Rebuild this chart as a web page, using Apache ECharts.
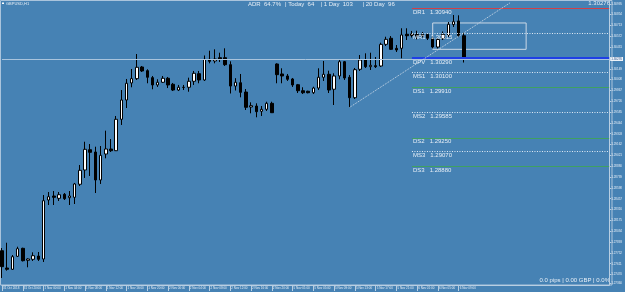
<!DOCTYPE html>
<html>
<head>
<meta charset="utf-8">
<script src="https://cdn.jsdelivr.net/npm/echarts@6/dist/echarts.min.js"></script>
<style>
  html, body { margin: 0; padding: 0; background: #4682b4; }
  #chart { width: 625px; height: 292px; }
</style>
</head>
<body>
<div id="chart"></div>
<script>
// GBPUSD H1 candles
const opens  = [1.27780,1.27555,1.27538,1.27707,1.27811,1.27655,1.27668,1.27711,1.27672,1.28440,
                1.28492,1.28462,1.28514,1.28470,1.28475,1.28645,1.28831,1.29095,1.29065,1.28701,
                1.29039,1.29104,1.29082,1.29491,1.29742,1.29964,1.30020,1.30172,1.30124,1.30033,
                1.29938,1.29973,1.30025,1.29947,1.29872,1.29905,1.29908,1.29986,1.30085,1.30003,
                1.30272,1.30250,1.30293,1.30293,1.30202,1.29924,1.29967,1.29846,1.29651,1.29664,
                1.29595,1.29621,1.29699,1.30211,1.30081,1.30055,1.30016,1.29941,1.29863,1.29856,
                1.29837,1.29898,1.30038,1.30077,1.29882,1.30055,1.30241,1.30038,1.29772,1.30142,
                1.30263,1.30176,1.30189,1.30185,1.30467,1.30546,1.30415,1.30415,1.30598,1.30582,
                1.30595,1.30575,1.30598,1.30546,1.30432,1.30540,1.30582,1.30725,1.30771,1.30579];
const closes = [1.27572,1.27538,1.27702,1.27806,1.27650,1.27672,1.27715,1.27668,1.28431,1.28483,
                1.28475,1.28509,1.28457,1.28492,1.28649,1.28827,1.29100,1.29061,1.28701,1.29022,
                1.29104,1.29082,1.29491,1.29742,1.29960,1.30020,1.30168,1.30120,1.30038,1.29938,
                1.29973,1.30025,1.29938,1.29872,1.29908,1.29908,1.29986,1.30090,1.30003,1.30272,
                1.30246,1.30276,1.30272,1.30202,1.29924,1.29973,1.29842,1.29647,1.29668,1.29590,
                1.29621,1.29699,1.29577,1.30072,1.30055,1.30012,1.29938,1.29863,1.29837,1.29837,
                1.29898,1.30038,1.30077,1.29872,1.30055,1.30241,1.30029,1.29772,1.30137,1.30263,
                1.30176,1.30194,1.30176,1.30467,1.30532,1.30402,1.30393,1.30589,1.30579,1.30602,
                1.30575,1.30598,1.30546,1.30432,1.30530,1.30598,1.30728,1.30762,1.30582,1.30276];
const lows   = [1.27425,1.27520,1.27529,1.27698,1.27640,1.27564,1.27646,1.27646,1.27633,1.28375,
                1.28375,1.28427,1.28440,1.28375,1.28388,1.28622,1.28727,1.28753,1.28531,1.28649,
                1.28983,1.29065,1.29078,1.29417,1.29638,1.29908,1.30003,1.30107,1.29960,1.29882,
                1.29912,1.29964,1.29898,1.29859,1.29859,1.29872,1.29850,1.29938,1.29960,1.29990,
                1.30220,1.30220,1.30237,1.30185,1.29827,1.29866,1.29777,1.29612,1.29569,1.29517,
                1.29534,1.29599,1.29573,1.29960,1.29960,1.29990,1.29912,1.29833,1.29820,1.29829,
                1.29820,1.29872,1.29990,1.29833,1.29677,1.30012,1.30003,1.29647,1.29755,1.30120,
                1.30159,1.30133,1.30159,1.30172,1.30445,1.30393,1.30367,1.30285,1.30523,1.30556,
                1.30532,1.30556,1.30523,1.30413,1.30413,1.30523,1.30562,1.30693,1.30562,1.30230];
const highs  = [1.27815,1.27884,1.27724,1.27832,1.27819,1.27681,1.27759,1.27763,1.28505,1.28544,
                1.28557,1.28544,1.28531,1.28557,1.28662,1.28896,1.29199,1.29169,1.29134,1.29143,
                1.29343,1.29234,1.29534,1.29872,1.30016,1.30146,1.30341,1.30185,1.30142,1.30055,
                1.30012,1.30055,1.30042,1.29964,1.29938,1.29938,1.30033,1.30120,1.30120,1.30322,
                1.30384,1.30402,1.30358,1.30415,1.30246,1.30026,1.30081,1.29885,1.29712,1.29699,
                1.29664,1.29720,1.29720,1.30220,1.30155,1.30081,1.30029,1.29951,1.29908,1.29863,
                1.29915,1.30155,1.30250,1.30124,1.30090,1.30263,1.30250,1.30068,1.30159,1.30328,
                1.30350,1.30358,1.30302,1.30488,1.30566,1.30575,1.30458,1.30676,1.30676,1.30641,
                1.30644,1.30628,1.30615,1.30575,1.30549,1.30634,1.30758,1.30849,1.30845,1.30618];

const xTickLabels = ['31 Oct 2018','31 Oct 20:00','1 Nov 00:00','1 Nov 04:00','1 Nov 08:00','1 Nov 12:00',
                     '1 Nov 16:00','1 Nov 20:00','2 Nov 00:00','2 Nov 04:00','2 Nov 08:00','2 Nov 12:00',
                     '2 Nov 16:00','2 Nov 20:00','5 Nov 01:00','5 Nov 05:00','5 Nov 09:00','5 Nov 13:00',
                     '5 Nov 17:00','5 Nov 21:00','6 Nov 01:00','6 Nov 05:00','6 Nov 09:00'];
const yTicks = [1.27360,1.27470,1.27611,1.27752,1.27893,1.28034,1.28175,1.28316,1.28457,1.28598,1.28739,
                1.28880,1.29021,1.29162,1.29303,1.29444,1.29585,1.29726,1.29867,1.30008,1.30149,
                1.30431,1.30572,1.30713,1.30854,1.30995];

// pivot levels (drawn from the start of 6 Nov)
const pivotNames  = ['DR1','MR1','DPV','MS1','DS1','MS2','DS2','MS3','DS3'];
const pivotValues = [1.30940,1.30615,1.30290,1.30100,1.29910,1.29585,1.29250,1.29070,1.28880];
const bidPrice = 1.30276;
const trendStart = [67, 1.29647];
const trendEnd = [98, 1.31012];
const boxCorners = [[83, 1.30745], [101, 1.30402]];

const nCats = 118;
const dayStart = 79;
const cats = Array.from({ length: nCats }, (_, i) => String(i));
const candles = opens.map((o, i) => [o, closes[i], lows[i], highs[i]]);

const FONT = 'Liberation Sans';
const TXT = '#e6eef6';

function pivotStyle(name) {
  if (name.startsWith('DR')) return { color: '#d04048', type: 'solid', width: 1 };
  if (name === 'DPV') return { color: '#1f3fe6', type: 'solid', width: 2 };
  if (name.startsWith('DS')) return { color: '#3fa062', type: 'solid', width: 1 };
  return { color: '#e4ecf4', type: [1, 1.5], width: 1 };
}

const pivotLines = pivotNames.map((name, i) => [
  {
    coord: [dayStart, pivotValues[i]],
    lineStyle: pivotStyle(name),
    label: {
      show: true, position: 'insideStartBottom', distance: 1,
      formatter: name + '   ' + pivotValues[i].toFixed(5),
      color: TXT, fontSize: 6, fontFamily: FONT
    }
  },
  { coord: [nCats - 1, pivotValues[i]] }
]);

const bidLine = [
  {
    coord: [0, bidPrice],
    lineStyle: { color: '#a9c4dd', type: 'solid', width: 1 },
    label: {
      show: true, position: 'end', distance: 1,
      formatter: bidPrice.toFixed(5),
      color: '#2a4f8a', backgroundColor: '#eef3f8',
      padding: [1, 1, 0, 1], fontSize: 3, fontFamily: FONT
    }
  },
  { coord: [nCats - 1, bidPrice] }
];

const trendLine = [
  { coord: trendStart, lineStyle: { color: '#cbd9e8', type: [1, 1], width: 1 }, label: { show: false } },
  { coord: trendEnd }
];

const chart = echarts.init(document.getElementById('chart'));

chart.setOption({
  backgroundColor: '#4682b4',
  animation: false,
  grid: { left: 1.6, right: 13, top: 0, bottom: 7 },
  xAxis: {
    type: 'category',
    data: cats,
    boundaryGap: false,
    axisLine: { lineStyle: { color: '#b8cee2', width: 1 } },
    axisTick: {
      interval: (i) => i % 4 === 0 && i / 4 < xTickLabels.length,
      length: 6,
      lineStyle: { color: '#b8cee2' }
    },
    axisLabel: {
      interval: (i) => i % 4 === 0 && i / 4 < xTickLabels.length,
      formatter: (v, i) => xTickLabels[i / 4] || '',
      align: 'left', margin: 2, padding: [0, 0, 0, 1],
      color: TXT, fontSize: 3, fontFamily: FONT
    },
    splitLine: { show: false }
  },
  yAxis: {
    type: 'value',
    position: 'right',
    min: 1.273335,
    max: 1.310442,
    axisLine: { show: true, lineStyle: { color: '#b8cee2' } },
    axisTick: { show: true, customValues: yTicks, length: 2, lineStyle: { color: '#b8cee2' } },
    axisLabel: {
      customValues: yTicks,
      formatter: (v) => v.toFixed(5),
      margin: 2, color: TXT, fontSize: 3, fontFamily: FONT
    },
    splitLine: { show: false }
  },
  graphic: [
    { type: 'rect', silent: true, shape: { x: 0.5, y: 0.5, width: 611.5, height: 284.5 },
      style: { fill: 'none', stroke: '#aac4dc', lineWidth: 1 } },
    { type: 'rect', shape: { x: 2, y: 2.6, width: 2, height: 1.4 }, style: { fill: '#ffffff' } },
    { type: 'text', style: { text: 'GBPUSD,H1', x: 6, y: 3.5, fill: TXT, fontSize: 4, fontFamily: FONT, verticalAlign: 'middle' } },
    { type: 'text', style: { text: 'ADR  64.7%', x: 248, y: 4.3, fill: TXT, fontSize: 6, fontFamily: FONT, verticalAlign: 'middle' } },
    { type: 'text', style: { text: '| Today  64', x: 285, y: 4.3, fill: TXT, fontSize: 6, fontFamily: FONT, verticalAlign: 'middle' } },
    { type: 'text', style: { text: '| 1 Day  103', x: 320.5, y: 4.3, fill: TXT, fontSize: 6, fontFamily: FONT, verticalAlign: 'middle' } },
    { type: 'text', style: { text: '| 20 Day  96', x: 362.5, y: 4.3, fill: TXT, fontSize: 6, fontFamily: FONT, verticalAlign: 'middle' } },
    { type: 'text', style: { text: '1.30276', x: 610, y: 3.6, fill: TXT, fontSize: 6, fontFamily: FONT, align: 'right', verticalAlign: 'middle' } },
    { type: 'text', style: { text: '0.0 pips | 0.00 GBP | 0.0%', x: 610, y: 280.8, fill: TXT, fontSize: 6, fontFamily: FONT, align: 'right', verticalAlign: 'middle' } }
  ],
  series: [
    {
      type: 'candlestick',
      data: candles,
      barWidth: 3,
      itemStyle: {
        color: '#ffffff',
        color0: '#000000',
        borderColor: '#000000',
        borderColor0: '#000000',
        borderWidth: 1
      },
      markArea: {
        silent: true,
        itemStyle: { color: 'rgba(0,0,0,0)', borderColor: '#cdd9e6', borderWidth: 1 },
        data: [[{ coord: boxCorners[0] }, { coord: boxCorners[1] }]]
      },
      markLine: {
        silent: true,
        symbol: ['none', 'none'],
        animation: false,
        data: [bidLine, ...pivotLines, trendLine]
      }
    }
  ]
});
</script>
</body>
</html>
